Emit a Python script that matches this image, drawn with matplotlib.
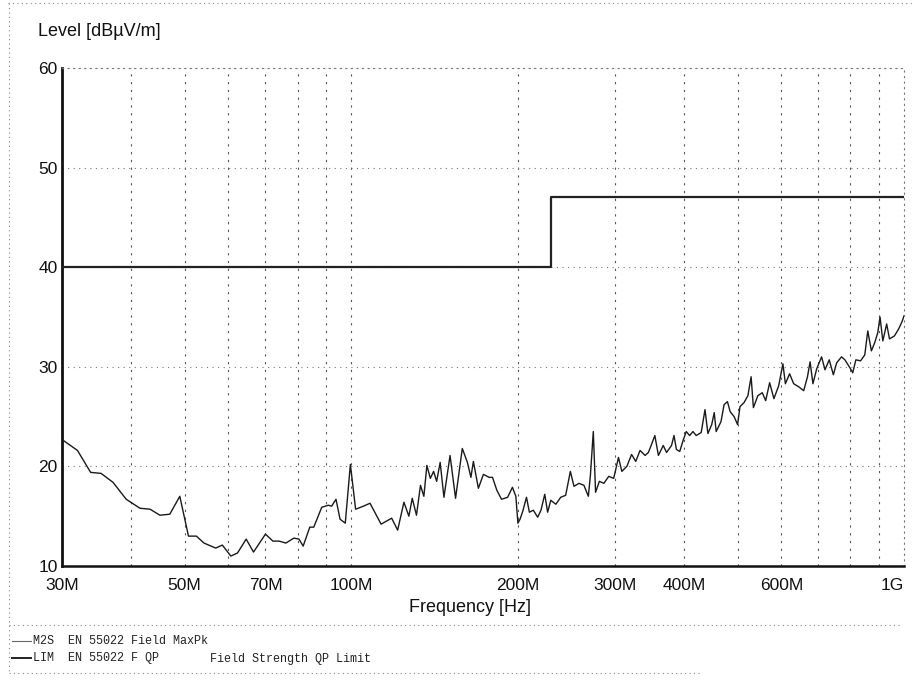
import matplotlib
matplotlib.use('Agg')
from matplotlib import pyplot as plt
from matplotlib.lines import Line2D
from matplotlib.ticker import NullFormatter

W, H = 913, 682

# measured trace (MaxPk), frequency in MHz, level in dBuV/m
freq_mhz = [30.0, 32.0, 33.8, 35.3, 37.1, 39.2, 41.5, 43.3, 45.1, 47.0,
            49.0, 50.8, 52.5, 54.2, 56.9, 58.5, 60.6, 62.3, 64.6, 66.6,
            70.0, 72.2, 74.1, 76.2, 78.8, 80.5, 81.9, 84.2, 85.6, 88.5,
            91.0, 92.2, 93.9, 95.5, 97.6, 99.7, 101.9, 105.2, 108.2, 113.3,
            118.4, 121.4, 124.6, 127.2, 129.0, 131.3, 133.5, 135.4, 137.1, 139.1,
            141.0, 142.8, 144.9, 147.2, 151.0, 154.5, 158.9, 162.3, 164.7, 166.4,
            169.9, 173.5, 177.7, 180.2, 183.5, 187.1, 191.9, 195.8, 198.6, 200.3,
            202.1, 204.4, 207.6, 210.1, 213.6, 217.5, 220.5, 224.0, 226.7, 229.7,
            234.6, 239.4, 244.4, 249.2, 253.0, 258.3, 263.7, 268.6, 270.9, 274.2,
            276.8, 281.2, 286.5, 292.4, 298.5, 304.5, 308.8, 315.3, 321.6, 327.2,
            333.1, 340.2, 344.9, 349.4, 354.3, 359.6, 366.9, 372.0, 379.8, 383.7,
            387.6, 393.0, 398.5, 403.8, 409.5, 415.2, 420.9, 429.7, 436.6, 441.9,
            449.0, 453.7, 457.4, 466.7, 472.7, 479.4, 484.8, 492.9, 500.0, 505.1,
            513.6, 522.0, 529.0, 534.1, 544.1, 554.2, 562.1, 571.5, 581.7, 593.4,
            603.9, 610.2, 621.0, 631.6, 644.8, 658.5, 669.0, 676.3, 684.4, 695.2,
            709.5, 719.6, 732.4, 745.1, 755.5, 771.0, 781.8, 798.4, 807.8, 818.3,
            834.7, 849.3, 860.0, 873.0, 884.8, 896.3, 905.0, 915.6, 930.4, 941.3,
            961.0, 977.9, 991.3, 1000.0]
level_db = [22.7, 21.6, 19.4, 19.3, 18.4, 16.7, 15.8, 15.7, 15.1, 15.2,
            17.0, 13.0, 13.0, 12.3, 11.8, 12.1, 11.0, 11.3, 12.7, 11.4,
            13.2, 12.5, 12.5, 12.3, 12.8, 12.7, 12.0, 13.9, 13.9, 15.9,
            16.1, 16.0, 16.7, 14.7, 14.3, 20.2, 15.7, 16.0, 16.3, 14.2,
            14.8, 13.6, 16.4, 15.0, 16.8, 15.1, 18.1, 17.0, 20.1, 18.8,
            19.5, 18.5, 20.4, 16.9, 21.1, 16.8, 21.8, 20.4, 18.9, 20.5,
            17.8, 19.2, 18.9, 18.9, 17.6, 16.7, 16.9, 17.9, 17.0, 14.3,
            14.7, 15.5, 16.9, 15.4, 15.6, 14.9, 15.6, 17.2, 15.4, 16.6,
            16.2, 16.9, 17.1, 19.5, 18.0, 18.3, 18.1, 17.0, 19.1, 23.5,
            17.4, 18.5, 18.3, 19.0, 18.8, 20.9, 19.5, 20.0, 21.2, 20.5,
            21.6, 21.1, 21.4, 22.2, 23.1, 21.1, 22.1, 21.4, 22.1, 23.1,
            21.7, 21.5, 22.6, 23.5, 23.1, 23.5, 23.1, 23.4, 25.7, 23.3,
            24.2, 25.4, 23.5, 24.5, 26.2, 26.5, 25.5, 25.0, 24.2, 26.0,
            26.4, 27.1, 29.0, 25.9, 27.1, 27.4, 26.6, 28.4, 26.8, 28.1,
            30.3, 28.3, 29.3, 28.3, 28.0, 27.6, 29.0, 30.5, 28.3, 29.8,
            31.0, 29.7, 30.7, 29.2, 30.4, 31.0, 30.7, 29.9, 29.4, 30.7,
            30.6, 31.2, 33.6, 31.6, 32.4, 33.4, 35.0, 32.6, 34.3, 32.8,
            33.1, 33.8, 34.5, 35.1]

# EN 55022 QP limit
limit_freq = [30, 230, 230, 1000]
limit_db = [40, 40, 47, 47]

x_tick_pos = [30, 50, 70, 100, 200, 300, 400, 600, 1000]
x_tick_labels = ['30M', '50M', '70M', '100M', '200M', '300M', '400M', '600M', '1G']
x_grid = [40, 50, 60, 70, 80, 90, 100, 200, 300, 400, 500, 600, 700, 800, 900]
y_ticks = [10, 20, 30, 40, 50, 60]

plt.rcParams['font.family'] = ['Liberation Sans', 'DejaVu Sans']

fig = plt.figure(figsize=(W / 100, H / 100), dpi=100)
ax = fig.add_axes([62 / W, 1 - 566 / H, (904 - 62) / W, (566 - 68) / H])

ax.plot(freq_mhz, level_db, color='#1a1a1a', lw=1.0, zorder=3)
ax.plot(limit_freq, limit_db, color='#222222', lw=1.6, zorder=3)

ax.set_xscale('log')
ax.set_xlim(30, 1000)
ax.set_ylim(10, 60)

ax.xaxis.remove_overlapping_locs = False
ax.set_xticks(x_tick_pos)
ax.set_xticklabels(x_tick_labels)
ax.set_xticks(x_grid, minor=True)
ax.xaxis.set_minor_formatter(NullFormatter())
ax.set_yticks(y_ticks)
ax.tick_params(axis='both', which='both', length=0, labelsize=12.5, colors='#111111')
ax.tick_params(axis='x', pad=9)
ax.tick_params(axis='y', pad=3)
ax.get_xticklabels()[-1].set_horizontalalignment('right')

ax.grid(False)
ax.grid(True, which='minor', axis='x', color='#555555', lw=0.8, ls=(0, (2, 5)))
ax.grid(True, which='major', axis='y', color='#777777', lw=0.8, ls=(0, (1, 4)))

ax.spines['left'].set_linewidth(2.0)
ax.spines['bottom'].set_linewidth(1.8)
ax.spines['left'].set_color('#111111')
ax.spines['bottom'].set_color('#111111')
for side in ['top', 'right']:
    ax.spines[side].set_color('#777777')
    ax.spines[side].set_linewidth(0.8)
    ax.spines[side].set_linestyle((0, (1, 4)))

fig.text(38 / W, 1 - 32 / H, 'Level [dBµV/m]', fontsize=13, va='center', ha='left', color='#111111')
fig.text(470 / W, 1 - 607 / H, 'Frequency [Hz]', fontsize=13, va='center', ha='center', color='#111111')

# page frame
frame_style = dict(color='#888888', lw=0.8, ls=(0, (1, 3)), transform=fig.transFigure)
fig.add_artist(Line2D([8 / W, 1], [1 - 3 / H, 1 - 3 / H], **frame_style))
fig.add_artist(Line2D([9 / W, 9 / W], [1 - 3 / H, 1 - 673 / H], **frame_style))
fig.add_artist(Line2D([9 / W, 900 / W], [1 - 625 / H, 1 - 625 / H], **frame_style))
fig.add_artist(Line2D([9 / W, 700 / W], [1 - 673 / H, 1 - 673 / H], **frame_style))

# legend block
fig.add_artist(Line2D([12 / W, 31 / W], [1 - 641 / H, 1 - 641 / H], color='#666666', lw=0.8,
                      transform=fig.transFigure))
fig.add_artist(Line2D([12 / W, 31 / W], [1 - 658 / H, 1 - 658 / H], color='#222222', lw=1.4,
                      transform=fig.transFigure))
mono = dict(family=['Liberation Mono', 'DejaVu Sans Mono'], fontsize=8.5, va='center', ha='left',
            color='#222222')
fig.text(33 / W, 1 - 641 / H, 'M2S  EN 55022 Field MaxPk', **mono)
fig.text(33 / W, 1 - 658 / H, 'LIM  EN 55022 F QP', **mono)
fig.text(210 / W, 1 - 659 / H, 'Field Strength QP Limit', **mono)

fig.savefig('out.png', dpi=100, facecolor='white')
